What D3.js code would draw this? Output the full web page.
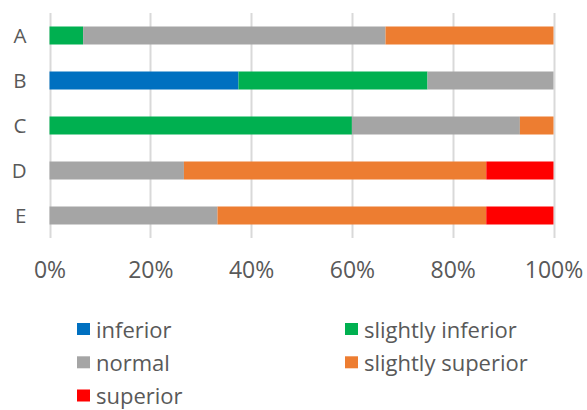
<!DOCTYPE html>
<html>
<head>
<meta charset="utf-8">
<script src="https://cdn.jsdelivr.net/npm/d3@7"></script>
<style>
  html, body { margin: 0; padding: 0; background: #fff; }
  svg { display: block; font-family: "Open Sans", sans-serif; }
</style>
</head>
<body>
<svg id="chart" width="587" height="410"></svg>
<script>
// Rating categories and their share (%) for each item
const categories = ["A", "B", "C", "D", "E"];
const seriesNames = ["inferior", "slightly inferior", "normal", "slightly superior", "superior"];
const inferior         = [0,     37.5, 0,     0,     0];
const slightlyInferior = [6.67,  37.5, 60,    0,     0];
const normal           = [60,    25,   33.33, 26.67, 33.33];
const slightlySuperior = [33.33, 0,    6.67,  60,    53.33];
const superior         = [0,     0,    0,     13.33, 13.33];
const tickValues = [0, 20, 40, 60, 80, 100];
const tickLabels = ["0%", "20%", "40%", "60%", "80%", "100%"];
const colors = ["#0070C0", "#00B050", "#A5A5A5", "#ED7D31", "#FF0000"];

const seriesValues = [inferior, slightlyInferior, normal, slightlySuperior, superior];
const rows = categories.map((c, i) => {
  const r = { cat: c };
  seriesNames.forEach((s, j) => { r[s] = seriesValues[j][i]; });
  return r;
});

const svg = d3.select("#chart");
const textColor = "#595959";

const x = d3.scaleLinear().domain([0, 100]).range([49.5, 553.5]);
const y = d3.scaleBand().domain(categories).range([13, 238]).paddingInner(0.6).paddingOuter(0.3);

// vertical gridlines
svg.append("g")
  .selectAll("line")
  .data(tickValues)
  .join("line")
  .attr("x1", d => Math.round(x(d)) + 0.5)
  .attr("x2", d => Math.round(x(d)) + 0.5)
  .attr("y1", 13)
  .attr("y2", 238)
  .attr("stroke", "#D9D9D9")
  .attr("stroke-width", 2);

// stacked bars
const stacked = d3.stack().keys(seriesNames)(rows);
svg.append("g")
  .selectAll("g")
  .data(stacked)
  .join("g")
  .attr("fill", (d, i) => colors[i])
  .selectAll("rect")
  .data(d => d.filter(p => p[1] - p[0] > 0))
  .join("rect")
  .attr("x", d => x(d[0]))
  .attr("width", d => x(d[1]) - x(d[0]))
  .attr("y", d => y(d.data.cat))
  .attr("height", y.bandwidth());

// category axis labels
svg.append("g")
  .selectAll("text")
  .data(categories)
  .join("text")
  .attr("x", 26.5)
  .attr("y", d => y(d) + y.bandwidth() / 2)
  .attr("dy", "0.36em")
  .attr("text-anchor", "end")
  .attr("font-size", 20.5)
  .attr("fill", textColor)
  .text(d => d);

// percentage axis
const xAxis = d3.axisBottom(x)
  .tickValues(tickValues)
  .tickFormat((d, i) => tickLabels[i])
  .tickSize(0)
  .tickPadding(0);
const gx = svg.append("g").attr("transform", "translate(0,278)").call(xAxis);
gx.select(".domain").remove();
gx.selectAll("text")
  .attr("y", 0)
  .attr("dy", 0)
  .attr("font-size", 23)
  .attr("font-family", "\"Open Sans\", sans-serif")
  .attr("fill", textColor);

// legend
const legendPos = [
  [77, 337.5], [345, 337.5],
  [77, 370.8], [345, 370.8],
  [77, 404]
];
const legend = svg.append("g")
  .selectAll("g")
  .data(seriesNames)
  .join("g")
  .attr("transform", (d, i) => `translate(${legendPos[i][0]},${legendPos[i][1]})`);
legend.append("rect")
  .attr("x", 0)
  .attr("y", -14.5)
  .attr("width", 13)
  .attr("height", 12)
  .attr("fill", (d, i) => colors[i]);
legend.append("text")
  .attr("x", 19)
  .attr("y", 0)
  .attr("font-size", 22)
  .attr("fill", textColor)
  .text(d => d);
</script>
</body>
</html>
